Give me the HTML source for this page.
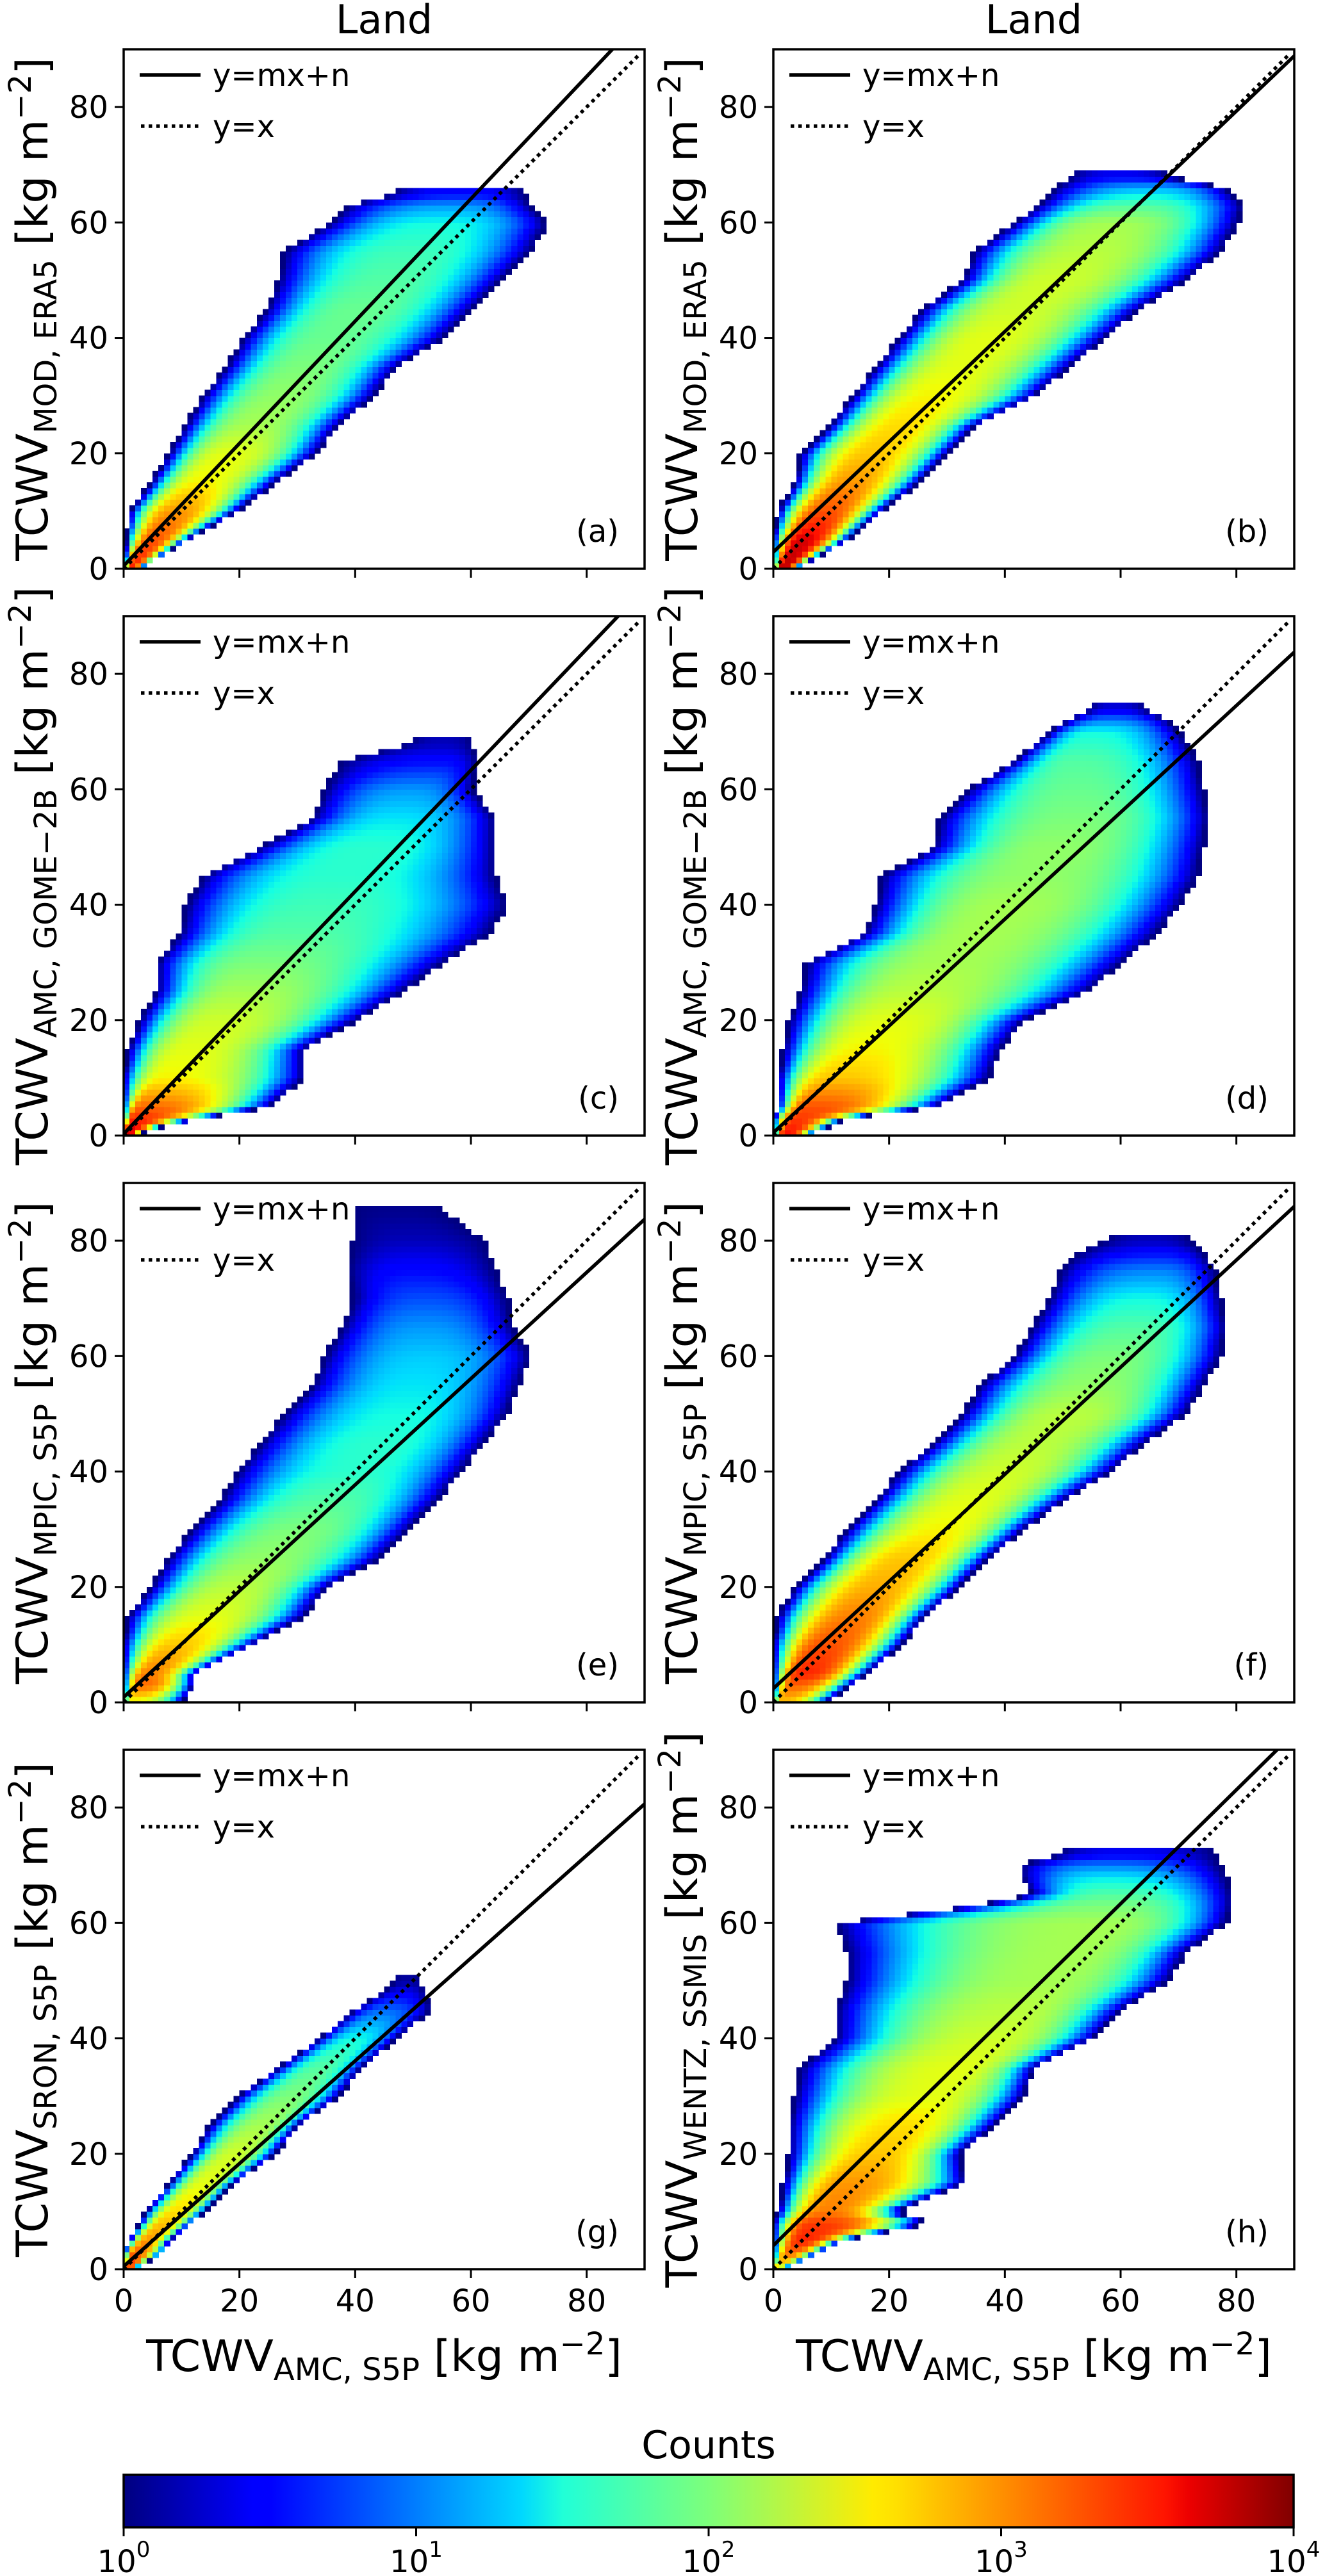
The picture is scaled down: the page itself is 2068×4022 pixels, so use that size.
<!DOCTYPE html>
<html><head><meta charset="utf-8"><title>TCWV Land comparison</title>
<style>
html,body{margin:0;padding:0;background:#fff;}
svg{display:block;font-family:"DejaVu Sans","Liberation Sans",sans-serif;}
</style></head>
<body>
<svg id="fig" width="2068" height="4022" viewBox="0 0 2068 4022" xmlns="http://www.w3.org/2000/svg">
<defs>
<linearGradient id="jet" x1="0" x2="1" y1="0" y2="0">
<stop offset="0" stop-color="#000080"/><stop offset="0.11" stop-color="#0000ff"/><stop offset="0.125" stop-color="#0000ff"/>
<stop offset="0.34" stop-color="#00d8ff"/><stop offset="0.375" stop-color="#20ffd8"/>
<stop offset="0.5" stop-color="#7dff7a"/><stop offset="0.64" stop-color="#ffeb00"/>
<stop offset="0.66" stop-color="#ffe000"/><stop offset="0.89" stop-color="#ff1400"/><stop offset="0.91" stop-color="#ed0000"/><stop offset="1" stop-color="#800000"/>
</linearGradient>
</defs>
</svg>
<script>
// ---- data ----
const panelIds = ['a','b','c','d','e','f','g','h'];
const panelLetters = ['(a)','(b)','(c)','(d)','(e)','(f)','(g)','(h)'];
const ySubs = ['MOD, ERA5','MOD, ERA5','AMC, GOME\u22122B','AMC, GOME\u22122B','MPIC, S5P','MPIC, S5P','SRON, S5P','WENTZ, SSMIS'];
const fitM = [1.06, 0.955, 1.05, 0.925, 0.92, 0.928, 0.89, 0.987];
const fitN = [0.5, 2.9, 0.3, 0.5, 0.9, 2.4, 0.5, 4.1];
const xTicks = [0, 20, 40, 60, 80];
const yTicks = [0, 20, 40, 60, 80];
const cbarTicks = ['0','1','2','3','4'];

const rowsY_a = [0,5,10,15,20,25,30,35,40,45,50,55,60,63,65];
const xmin_a  = [0,0.5,1.2,5,8,11,14,18,21,25,27,28,36,39,47];
const xmax_a  = [3,10.8,19.5,26,33,37,43,47,55,60,65,70,73,70,69];
const peakX_a = [1,5,9,13,18,22,27,31,35,40,45,49,54,57,58];
const peakL_a = [3.5,3.3,3.0,2.6,2.5,2.2,2.1,2.0,1.9,1.9,1.8,1.7,1.5,1.1,0.5];

const rowsY_b = [0,5,10,15,20,25,30,35,40,45,50,55,60,63,66,68];
const xmin_b  = [0,0,1,4,5,10,14,18,22,26,33,35,42,46,49,52];
const xmax_b  = [4,12.6,18.5,25,30,35,45,51,57,63,71,77,80,81,78,68];
const peakX_b = [1.5,5,9,13,17,22,27,32,37,42,48,54,58,62,66,60];
const peakL_b = [3.8,3.7,3.3,3.0,2.8,2.7,2.6,2.5,2.5,2.4,2.4,2.3,2.2,1.8,1.2,0.4];

const rowsY_c = [0,2,5,10,15,20,25,30,35,40,45,50,55,60,65,68];
const xmin_c  = [0,0,0,0,1,3,6,6,10,11,14,24,33,35,38,50];
const xmax_c  = [2,8,25,31,31,40,48,55,63,66,64,64,64,60,61,60];
const peakX_c = [0.5,1,3,7,11,16,20,23,28,33,37,42,47,50,55,55];
const peakL_c = [3.8,3.6,3.2,2.6,2.5,2.4,2.2,2.0,1.8,1.7,1.6,1.6,1.4,1.1,0.5,0.2];

const rowsY_d = [0,3,5,10,15,20,25,30,35,40,45,50,55,60,65,70,72,74];
const xmin_d  = [0,0,1,1,2,3,5,6,16,18,19,28,29,34,42,48,51,55];
const xmax_d  = [6,12.6,28,37,39,43,54,60,66,70,73,74,75,74,73,70,68,64];
const peakX_d = [2,4,6,10,15,20,24,30,35,40,45,48,52,52,52,55,58,59];
const peakL_d = [3.6,3.4,3.3,2.8,2.6,2.5,2.3,2.2,2.2,2.2,2.1,2.1,2.0,1.9,1.8,1.5,1.0,0.3];

const rowsY_e = [0,3,5,10,15,20,25,30,35,40,45,50,55,60,65,70,75,80,85];
const xmin_e  = [0,0,0,0,1,5,8,12,17,20,24,28,33,35,38,40,39,40,40];
const xmax_e  = [10,12,12,22,31,35,44,49,54,58,62,66,68,70,67,66,64,62,55];
const peakX_e = [1,3,4,9,14,19,24,30,35,40,44,48,50,52,52,52,50,50,48];
const peakL_e = [2.5,3.2,3.1,2.8,2.5,2.3,2.1,2.0,1.8,1.6,1.6,1.5,1.4,1.3,1.1,0.8,0.5,0.2,0.05];

const rowsY_f = [0,5,10,15,20,25,30,35,40,45,50,55,60,65,70,75,78,80];
const xmin_f  = [0,0,0,1,4,9,13,18,22,28,33,36,42,45,48,50,53,58];
const xmax_f  = [9,16,22,26,32,37,43,50,58,64,71,74,77,78,77,76,74,72];
const peakX_f = [1,5,9,14,18,23,29,34,40,45,51,55,58,62,64,66,67,65];
const peakL_f = [2.8,3.5,3.3,3.1,2.9,2.8,2.6,2.5,2.4,2.3,2.3,2.1,2.0,1.8,1.5,1.0,0.5,0.2];

const rowsY_g = [0,3,5,10,15,20,25,30,35,40,45,48,50];
const xmin_g  = [0,0,1,4,8,12,15,20,27,34,40,45,47];
const xmax_g  = [2,7,8,14,19,26,30,37,41,47,53,52,51];
const peakX_g = [0.5,2,4,9,14,19,24,29,34,40,45,48,49];
const peakL_g = [3.5,3.2,3.0,2.7,2.5,2.4,2.2,2.0,1.8,1.5,0.9,0.4,0.1];

const rowsY_h = [0,3,5,8,10,15,20,25,30,35,40,45,50,55,60,63,65,68,70,72];
const xmin_h  = [0,0,0,0,1,2,3,3,4,5,11,11,13,13,11,35,45,43,43,50];
const xmax_h  = [2,8,12,27,21,33,32,38,43,45,55,60,68,71,78,79,79,78,77,76];
const peakX_h = [0,3,5,7,9,13,18,22,27,32,38,42,47,52,56,58,58,58,57,60];
const peakL_h = [2.5,3.2,3.5,3.4,3.1,3.0,2.8,2.7,2.5,2.5,2.4,2.3,2.2,2.2,2.2,2.0,1.8,1.4,1.0,0.4];

const panelRows = {
  a:[rowsY_a,xmin_a,xmax_a,peakX_a,peakL_a], b:[rowsY_b,xmin_b,xmax_b,peakX_b,peakL_b],
  c:[rowsY_c,xmin_c,xmax_c,peakX_c,peakL_c], d:[rowsY_d,xmin_d,xmax_d,peakX_d,peakL_d],
  e:[rowsY_e,xmin_e,xmax_e,peakX_e,peakL_e], f:[rowsY_f,xmin_f,xmax_f,peakX_f,peakL_f],
  g:[rowsY_g,xmin_g,xmax_g,peakX_g,peakL_g], h:[rowsY_h,xmin_h,xmax_h,peakX_h,peakL_h]
};

// ---- layout ----
const NS = 'http://www.w3.org/2000/svg';
const svg = document.getElementById('fig');
const colX = [193, 1207], rowTop = [77, 962, 1847, 2732], PW = 813, PH = 811;
const XMAX = 90, YMAX = 90;

function mk(tag, attrs, parent){
  const e = document.createElementNS(NS, tag);
  for (const k in attrs) e.setAttribute(k, attrs[k]);
  (parent||svg).appendChild(e); return e;
}
function jet(v){
  const t = Math.max(0, Math.min(1, v));
  const seg = (pts)=>{ for(let i=1;i<pts.length;i++){ if(t<=pts[i][0]){const a=pts[i-1],b=pts[i];return a[1]+(b[1]-a[1])*(t-a[0])/(b[0]-a[0]);} } return pts[pts.length-1][1]; };
  const r = seg([[0,0],[0.35,0],[0.66,1],[0.89,1],[1,0.5]]);
  const g = seg([[0,0],[0.125,0],[0.375,1],[0.64,1],[0.91,0],[1,0]]);
  const b = seg([[0,0.5],[0.11,1],[0.34,1],[0.65,0],[1,0]]);
  return 'rgb('+Math.round(r*255)+','+Math.round(g*255)+','+Math.round(b*255)+')';
}
function interp(ys, arr, y){
  for (let i=1;i<ys.length;i++){ if (y<=ys[i]) { const f=(y-ys[i-1])/(ys[i]-ys[i-1]); return arr[i-1]+(arr[i]-arr[i-1])*f; } }
  return arr[arr.length-1];
}

panelIds.forEach((id, idx) => {
  const col = idx % 2, row = Math.floor(idx / 2);
  const L = colX[col], T = rowTop[row], B = T + PH, R = L + PW;
  const sx = v => L + v / XMAX * PW;
  const sy = v => B - v / YMAX * PH;
  const g = mk('g', {});
  
  

  // heatmap
  const hm = mk('g', {'shape-rendering':'crispEdges'}, g);
  
  
  const [ys, xmn, xmx, pk, pl] = panelRows[id];
  for (let j = 0; j < YMAX; j++) {
    const yc = j + 0.5;
    if (yc < ys[0] || yc > ys[ys.length-1] + 0.5) continue;
    const lo = interp(ys, xmn, yc), hi = interp(ys, xmx, yc), p = interp(ys, pk, yc), lv = interp(ys, pl, yc);
    for (let i = Math.floor(lo); i < Math.ceil(hi); i++) {
      const xc = i + 0.5;
      let t;
      if (xc <= p) t = (p - xc) / Math.max(0.5, p - lo); else t = (xc - p) / Math.max(0.5, hi - p);
      if (t > 1.05) continue;
      const v = lv * (1 - Math.pow(Math.min(t,1), 2.8));
      const c = mk('rect', {x: sx(i).toFixed(1), y: sy(j+1).toFixed(1), width: (PW/XMAX+0.6).toFixed(2), height: (PH/YMAX+0.6).toFixed(2), fill: jet(v/4)}, hm);
      
      
    }
  }

  // lines
  const clip = mk('clipPath', {id: 'clip' + id}, g);
  mk('rect', {x: L, y: T, width: PW, height: PH}, clip);
  const m = fitM[idx], n = fitN[idx];
  const fit = mk('line', {x1: sx(0), y1: sy(n), x2: sx(XMAX), y2: sy(m*XMAX+n), stroke:'#000', 'stroke-width':5.5, 'clip-path':'url(#clip'+id+')'}, g);
  
  
  const one = mk('line', {x1: sx(0), y1: sy(0), x2: sx(XMAX-1), y2: sy(XMAX-1), stroke:'#000', 'stroke-width':5.5, 'stroke-dasharray':'5.5 6.5', 'clip-path':'url(#clip'+id+')'}, g);
  
  

  // frame
  const fr = mk('rect', {x: L, y: T, width: PW, height: PH, fill:'none', stroke:'#000', 'stroke-width':3.5}, g);
  
  

  // ticks
  xTicks.forEach(v => {
    const tk = mk('line', {x1: sx(v), x2: sx(v), y1: B, y2: B + 14, stroke:'#000', 'stroke-width':3}, g);
    
    
    if (row === 3) {
      const tl = mk('text', {x: sx(v), y: B + 66, 'font-size': 48, 'text-anchor':'middle'}, g);
      tl.textContent = v;
      
      
    }
  });
  yTicks.forEach(v => {
    const tk = mk('line', {x1: L - 14, x2: L, y1: sy(v), y2: sy(v), stroke:'#000', 'stroke-width':3}, g);
    
    
    const tl = mk('text', {x: L - 24, y: sy(v) + 17, 'font-size': 48, 'text-anchor':'end'}, g);
    tl.textContent = v;
    
    
  });

  // legend
  const lg = mk('g', {}, g);
  
  
  mk('line', {x1: L+25, x2: L+120, y1: T+40, y2: T+40, stroke:'#000', 'stroke-width':5.5}, lg);
  const t1 = mk('text', {x: L+139, y: T+57, 'font-size': 48}, lg); t1.textContent = 'y=mx+n';
  
  
  mk('line', {x1: L+27, x2: L+120, y1: T+120, y2: T+120, stroke:'#000', 'stroke-width':5.5, 'stroke-dasharray':'5.5 6.5'}, lg);
  const t2 = mk('text', {x: L+139, y: T+137, 'font-size': 48}, lg); t2.textContent = 'y=x';
  
  

  // panel letter
  const pl2 = mk('text', {x: R - 40, y: B - 42, 'font-size': 48, 'text-anchor':'end'}, g);
  pl2.textContent = panelLetters[idx];
  
  

  // y label
  const yl = mk('text', {'font-size': 68, 'text-anchor':'middle', transform: 'translate(' + (col ? 1088 : 74) + ',' + (T + PH/2) + ') rotate(-90)'}, g);
  
  
  yl.innerHTML = 'TCWV<tspan font-size="48" dy="14">' + ySubs[idx] + '</tspan><tspan dy="-14"> [kg m</tspan><tspan font-size="48" dy="-26">\u22122</tspan><tspan dy="26">]</tspan>';

  if (row === 0) {
    const ti = mk('text', {x: L + PW/2, y: 52, 'font-size': 62, 'text-anchor':'middle'}, g);
    ti.textContent = 'Land';
    
    
  }
  if (row === 3) {
    const xl = mk('text', {x: L + PW/2, y: 3702, 'font-size': 68, 'text-anchor':'middle'}, g);
    
    
    xl.innerHTML = 'TCWV<tspan font-size="48" dy="14">AMC, S5P</tspan><tspan dy="-14"> [kg m</tspan><tspan font-size="48" dy="-26">\u22122</tspan><tspan dy="26">]</tspan>';
  }
});

// colorbar
const CBL = 193, CBR = 2019, CBT = 3864, CBB = 3946;
const cb = mk('g', {});


mk('rect', {x: CBL, y: CBT, width: CBR-CBL, height: CBB-CBT, fill:'url(#jet)', stroke:'#000', 'stroke-width':3.5}, cb);
const ct = mk('text', {x: (CBL+CBR)/2, y: 3838, 'font-size': 60, 'text-anchor':'middle'}, cb);
ct.textContent = 'Counts';


cbarTicks.forEach((e, i) => {
  const x = CBL + i / (cbarTicks.length - 1) * (CBR - CBL);
  mk('line', {x1: x, x2: x, y1: CBB, y2: CBB + 14, stroke:'#000', 'stroke-width':3}, cb);
  const tl = mk('text', {x: x, y: 4016, 'font-size': 48, 'text-anchor':'middle'}, cb);
  
  
  tl.innerHTML = '10<tspan font-size="34" dy="-24">' + e + '</tspan>';
});
</script>
</body></html>
